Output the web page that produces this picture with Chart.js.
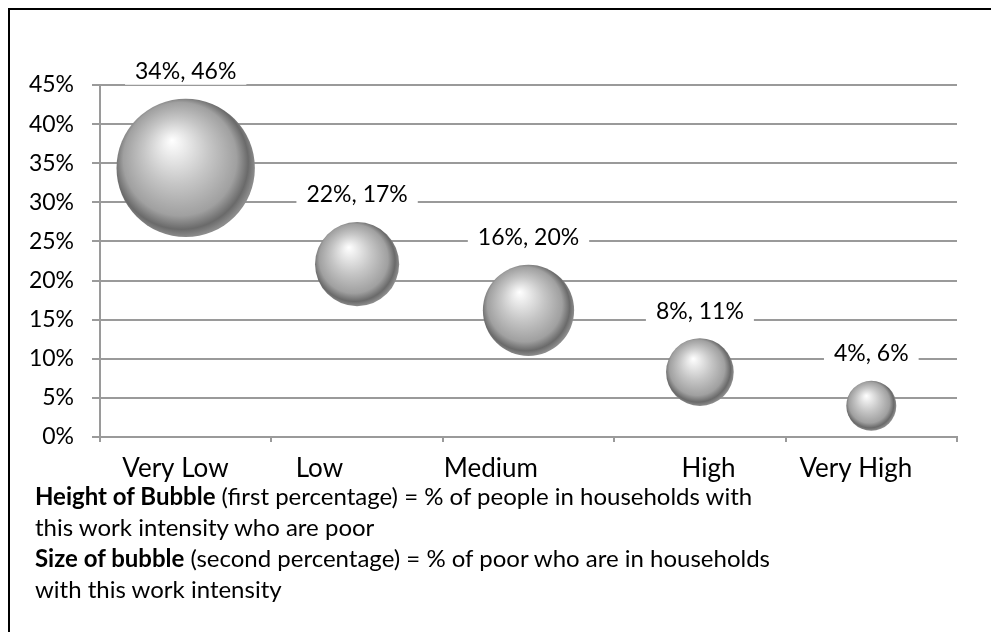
<!DOCTYPE html>
<html>
<head>
<meta charset="utf-8">
<script src="https://cdn.jsdelivr.net/npm/chart.js@4.4.1/dist/chart.umd.min.js"></script>
<style>
  html, body { margin: 0; padding: 0; background: #fff; overflow: hidden; }
  body { width: 991px; height: 632px; position: relative; font-family: Lato, "Open Sans", sans-serif; }
  #frame { position: absolute; left: 8px; top: 8px; width: 1100px; height: 700px; border: 2px solid #000; box-sizing: border-box; }
  #bubblechart { position: absolute; left: 0; top: 0; }
  #note { position: absolute; left: 35px; top: 480px; font-size: 24px; line-height: 31px; color: #000; }
  #note b { font-weight: 700; }
</style>
</head>
<body>
<div id="frame"></div>
<canvas id="bubblechart" width="991" height="490"></canvas>
<div id="note">
  <b>Height of Bubble</b> (first percentage) = % of people in households with<br>
  this work intensity who are poor<br>
  <b>Size of bubble</b> (second percentage) = % of poor who are in households<br>
  with this work intensity
</div>
<script>
const bubbleChart = document.getElementById("bubblechart");

// values
const categories = ["Very Low", "Low", "Medium", "High", "Very High"];
const poorRate = [34.4, 22.1, 16.2, 8.3, 4.0];      // height of bubble (%)
const shareOfPoor = [46, 17, 20, 11, 6];            // size of bubble (%)
const yTicks = [0, 5, 10, 15, 20, 25, 30, 35, 40, 45];
const categoryTickX = [0.44, 1.28, 2.28, 3.55, 4.41]; // where the category names sit

const gridGray = "#9a9a9a";
const fontFamily = "Lato, 'Open Sans', sans-serif";

const points = categories.map(function(c, i) {
    return { x: i + 0.5, y: poorRate[i], r: Math.sqrt(shareOfPoor[i]) * 10.2 };
});

// silver sphere fill
function sphereFill(context) {
    const chart = context.chart;
    if (context.type !== "data" || !chart.chartArea) return "#bdbdbd";
    const raw = context.raw;
    const cx = chart.scales.x.getPixelForValue(raw.x);
    const cy = chart.scales.y.getPixelForValue(raw.y);
    const r = raw.r;
    const g = chart.ctx.createRadialGradient(cx - 0.2 * r, cy - 0.4 * r, 0, cx - 0.05 * r, cy - 0.05 * r, r * 1.05);
    g.addColorStop(0, "#ffffff");
    g.addColorStop(0.12, "#f0f0f0");
    g.addColorStop(0.45, "#c6c6c6");
    g.addColorStop(0.78, "#a0a0a0");
    g.addColorStop(0.92, "#6a6a6a");
    g.addColorStop(1, "#8c8c8c");
    return g;
}

// "34%, 46%" labels on a white box above each bubble
const bubbleLabels = {
    id: "bubbleLabels",
    afterDatasetsDraw(chart) {
        const ctx = chart.ctx;
        const meta = chart.getDatasetMeta(0);
        ctx.save();
        ctx.font = "23px " + fontFamily;
        ctx.textAlign = "center";
        ctx.textBaseline = "middle";
        meta.data.forEach(function(el, i) {
            const raw = chart.data.datasets[0].data[i];
            const text = Math.round(poorRate[i]) + "%, " + shareOfPoor[i] + "%";
            const w = ctx.measureText(text).width;
            const ly = el.y - raw.r - 27;
            ctx.fillStyle = "#ffffff";
            ctx.fillRect(el.x - w / 2 - 10, ly - 13, w + 20, 26);
            ctx.fillStyle = "#000000";
            ctx.fillText(text, el.x, ly);
        });
        ctx.restore();
    }
};

function noPad(scale) {
    scale.paddingLeft = 0;
    scale.paddingRight = 0;
    scale.paddingTop = 0;
    scale.paddingBottom = 0;
}

new Chart(bubbleChart, {
    type: "bubble",
    data: {
        datasets: [{
            label: "Work intensity",
            data: points,
            backgroundColor: sphereFill,
            borderWidth: 0,
            hoverRadius: 0
        }]
    },
    options: {
        responsive: false,
        maintainAspectRatio: false,
        animation: false,
        events: [],
        layout: { autoPadding: false, padding: { left: 0, right: 34, top: 85, bottom: 0 } },
        plugins: {
            legend: { display: false },
            tooltip: { enabled: false }
        },
        scales: {
            x: {
                type: "linear",
                position: "bottom",
                weight: 0,
                min: 0,
                max: 5,
                ticks: { stepSize: 1, callback: function() { return ""; }, padding: 0 },
                grid: { drawOnChartArea: false, color: gridGray, lineWidth: 2, tickLength: 5 },
                border: { color: gridGray, width: 2 },
                afterFit: function(scale) { scale.height = 8; noPad(scale); }
            },
            x2: {
                type: "linear",
                position: "bottom",
                weight: 1,
                min: 0,
                max: 5,
                afterBuildTicks: function(scale) {
                    scale.ticks = categoryTickX.map(function(v) { return { value: v }; });
                },
                ticks: {
                    autoSkip: false,
                    maxRotation: 0,
                    color: "#000",
                    font: { family: fontFamily, size: 26 },
                    padding: 0,
                    callback: function(v, i) { return categories[i]; }
                },
                grid: { display: false },
                border: { display: false },
                afterFit: function(scale) { scale.height = 45; noPad(scale); }
            },
            y: {
                min: 0,
                max: 45,
                afterBuildTicks: function(scale) {
                    scale.ticks = yTicks.map(function(v) { return { value: v }; });
                },
                ticks: {
                    color: "#000",
                    font: { family: fontFamily, size: 23 },
                    padding: 18,
                    callback: function(v) { return v + "%"; }
                },
                grid: { color: gridGray, lineWidth: 2, tickLength: 8 },
                border: { color: gridGray, width: 2 },
                afterFit: function(scale) { scale.width = 100; noPad(scale); }
            }
        }
    },
    plugins: [bubbleLabels]
});
</script>
</body>
</html>
